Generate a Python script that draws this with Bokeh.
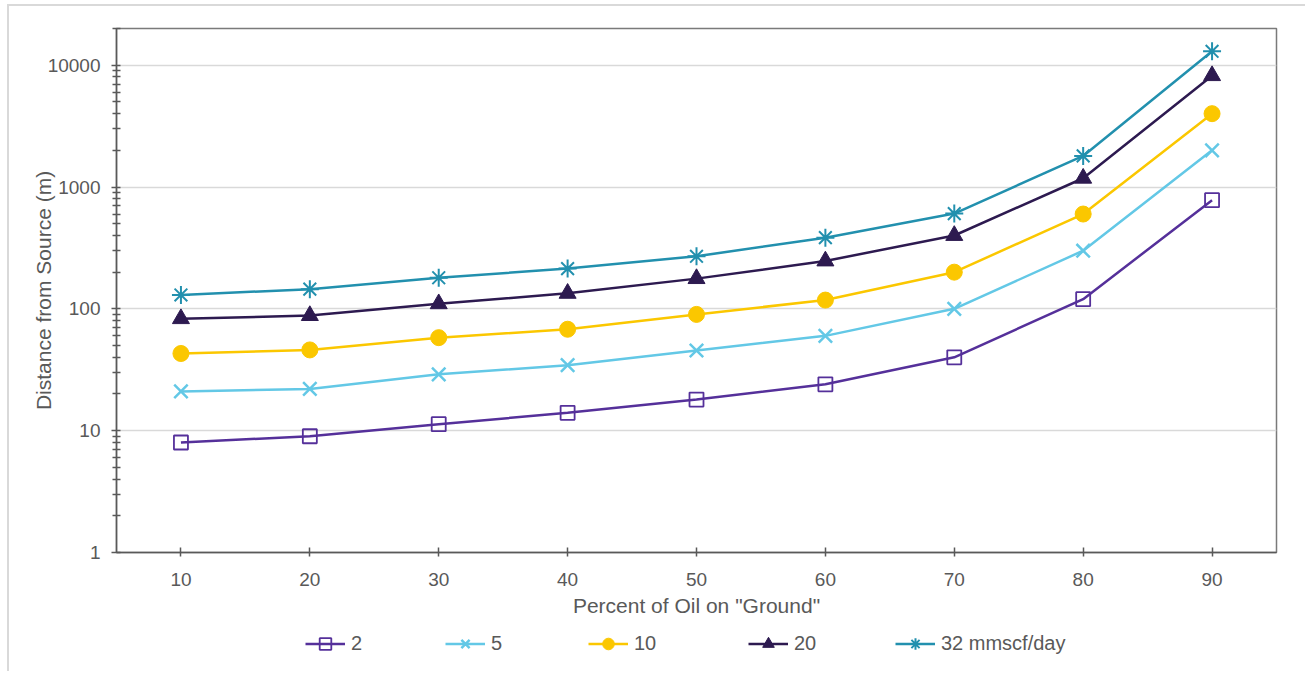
from bokeh.plotting import figure
from bokeh.layouts import column
from bokeh.models import FixedTicker, CustomJSTickFormatter, Legend, LegendItem, Range1d
from bokeh.embed import file_html
from bokeh.resources import INLINE

# ---- data ----
x_pct = [10, 20, 30, 40, 50, 60, 70, 80, 90]
s2 = [8, 9, 11.3, 14, 18, 24, 40, 120, 780]
s5 = [21, 22, 29, 34.5, 45.5, 60, 100, 300, 2000]
s10 = [43, 46, 58, 68, 90, 118, 200, 600, 4000]
s20 = [83, 88, 110, 134, 177, 247, 400, 1180, 8200]
s32 = [130, 145, 180, 214, 270, 384, 605, 1800, 13000]
series_labels = ["2", "5", "10", "20", "32 mmscf/day"]
y_ticks = [1, 10, 100, 1000, 10000]
x_label = 'Percent of Oil on "Ground"'
y_label = "Distance from Source (m)"

FONT = "Liberation Sans"
TXT = "#595959"

p = figure(width=1296, height=620, y_axis_type="log",
           x_range=Range1d(5, 95), y_range=Range1d(1, 20000),
           output_backend="svg", toolbar_location=None,
           min_border_left=107, min_border_top=22, min_border_right=29, min_border_bottom=74)
p.outline_line_color = "#7a7a7a"
p.outline_line_width = 1.5
p.background_fill_color = "white"
p.border_fill_color = "white"

minor = [m * d for d in y_ticks[:-1] for m in range(2, 10)] + [20000]
yt = FixedTicker(ticks=y_ticks, minor_ticks=minor)
p.yaxis.ticker = yt
p.yaxis.formatter = CustomJSTickFormatter(code="return tick.toFixed(0);")
p.xaxis.ticker = FixedTicker(ticks=x_pct, minor_ticks=[])

for ax in (p.xaxis[0], p.yaxis[0]):
    ax.axis_line_color = TXT
    ax.axis_line_width = 1.5
    ax.major_tick_line_color = TXT
    ax.major_tick_line_width = 1.5
    ax.minor_tick_line_color = TXT
    ax.minor_tick_line_width = 1.5
    ax.major_label_text_font = FONT
    ax.major_label_text_font_size = "19px"
    ax.major_label_text_color = TXT
    ax.axis_label_text_font = FONT
    ax.axis_label_text_font_size = "21px"
    ax.axis_label_text_color = TXT
    ax.axis_label_text_font_style = "normal"

p.yaxis.major_tick_in = 4
p.yaxis.major_tick_out = 5
p.yaxis.minor_tick_in = 4
p.yaxis.minor_tick_out = 4
p.yaxis.major_label_standoff = 11
p.yaxis.axis_label = y_label
p.yaxis.axis_label_standoff = -10

p.xaxis.major_tick_in = 5
p.xaxis.major_tick_out = 4
p.xaxis.major_label_standoff = 16
p.xaxis.axis_label = x_label
p.xaxis.axis_label_standoff = 5

p.xgrid.visible = False
p.ygrid.ticker = yt
p.ygrid.grid_line_color = "#d9d9d9"
p.ygrid.grid_line_width = 1.5

styles = [
    dict(color="#55309a", marker="square", size=14, fill_alpha=0, mlw=1.8),
    dict(color="#63c8e6", marker="x", size=19, fill_alpha=0, mlw=2.5),
    dict(color="#fbc700", marker="circle", size=16, fill_alpha=1, mlw=1),
    dict(color="#2d1a50", marker="triangle", size=17, fill_alpha=1, mlw=1),
    dict(color="#2290ae", marker="asterisk", size=18, fill_alpha=0, mlw=2),
]
all_series = [s2, s5, s10, s20, s32]
for vals, st in zip(all_series, styles):
    p.line(x_pct, vals, line_color=st["color"], line_width=2.5)
    p.scatter(x_pct, vals, marker=st["marker"], size=st["size"],
              line_color=st["color"], fill_color=st["color"],
              fill_alpha=st["fill_alpha"], line_width=st["mlw"])

# legend strip below the chart (its frame is aligned with the chart's frame)
lf = figure(width=1296, height=45, x_range=Range1d(0, 1), y_range=Range1d(0, 1),
            output_backend="svg", toolbar_location=None,
            x_axis_location=None, y_axis_location=None,
            min_border_left=0, min_border_right=0, min_border_top=0, min_border_bottom=0)
lf.outline_line_color = None
lf.xgrid.visible = False
lf.ygrid.visible = False
legend_x = [189, 329, 472, 632, 779]
nan = float("nan")
for st, lab, lx in zip(styles, series_labels, legend_x):
    ln = lf.line([nan], [nan], line_color=st["color"], line_width=2.5)
    sc = lf.scatter([nan], [nan], marker=st["marker"], size=st["size"],
                    line_color=st["color"], fill_color=st["color"],
                    fill_alpha=st["fill_alpha"], line_width=st["mlw"])
    leg = Legend(items=[LegendItem(label=lab, renderers=[ln, sc])],
                 location=(lx, 13), orientation="horizontal",
                 glyph_width=40, glyph_height=29, label_height=25,
                 label_standoff=6, padding=0, margin=0, spacing=0,
                 border_line_color=None, background_fill_alpha=0,
                 label_text_font=FONT, label_text_font_size="20px",
                 label_text_color=TXT)
    lf.add_layout(leg, "center")

layout = column(p, lf, spacing=0)
layout.styles = {"border-left": "2px solid #d9d9d9", "border-top": "2px solid #d9d9d9",
                 "margin-left": "7px", "margin-top": "4px"}

open("out.html", "w").write(file_html(layout, INLINE))
